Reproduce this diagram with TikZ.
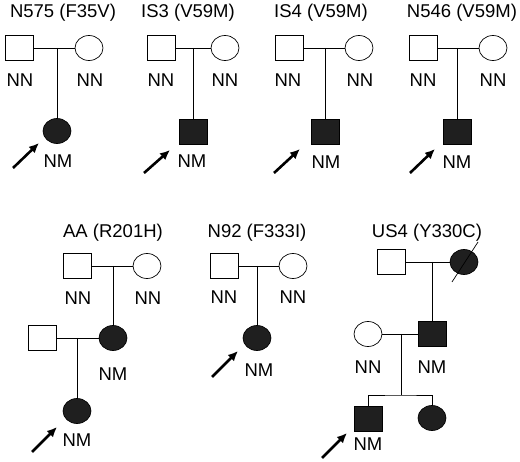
\documentclass[tikz,border=0pt]{standalone}
\usepackage{fontspec}
\setmainfont{Liberation Sans}
\usetikzlibrary{shapes.geometric,arrows.meta,calc}

\begin{document}
\begin{tikzpicture}[x=1pt,y=-1pt]
 \tikzset{person/.style={draw,
      line width=0.7pt,
      minimum width=28pt,
      minimum height=25pt,
      inner sep=0pt
    },
  male/.style={person,rectangle},
  female/.style={person,ellipse},
  affected/.style={fill=black!88},
  geno/.style={font=\fontsize{18.5}{20}\selectfont,inner sep=0pt,anchor=base},
  tie/.style={line width=0.7pt},
  proband/.style={-{Latex[length=10pt,width=9pt]},line width=2.6pt}
}
\useasboundingbox (0,0) rectangle (520,462);

\node[geno] (t1) at (63,18) {N575 (F35V)};
\node[male] (f1) at (19,48) {};
\node[female] (m1) at (89,48) {};
\node[female,affected] (c1) at (57,131) {};
\coordinate (j1) at (57,48);
\draw[tie] (f1) -- (m1);
\draw[tie] (j1) -- (c1);
\node[geno] (gf1) at (20,87) {NN};
\node[geno] (gm1) at (90,87) {NN};
\node[geno] (gc1) at (58,168) {NM};
\coordinate (a1) at (13,168);
\coordinate (b1) at (39,143);
\draw[proband] (a1) -- (b1);

\node[geno] (t2) at (188,18) {IS3 (V59M)};
\node[male] (f2) at (161,48) {};
\node[female] (m2) at (225,48) {};
\node[male,affected] (c2) at (193,132) {};
\coordinate (j2) at (193,48);
\draw[tie] (f2) -- (m2);
\draw[tie] (j2) -- (c2);
\node[geno] (gf2) at (161,87) {NN};
\node[geno] (gm2) at (225,87) {NN};
\node[geno] (gc2) at (192,168) {NM};
\coordinate (a2) at (144,173);
\coordinate (b2) at (170,150);
\draw[proband] (a2) -- (b2);

\node[geno] (t3) at (321,18) {IS4 (V59M)};
\node[male] (f3) at (289,48) {};
\node[female] (m3) at (359,48) {};
\node[male,affected] (c3) at (325,132) {};
\coordinate (j3) at (325,48);
\draw[tie] (f3) -- (m3);
\draw[tie] (j3) -- (c3);
\node[geno] (gf3) at (288,87) {NN};
\node[geno] (gm3) at (360,87) {NN};
\node[geno] (gc3) at (326,169) {NM};
\coordinate (a3) at (274,173);
\coordinate (b3) at (300,149);
\draw[proband] (a3) -- (b3);

\node[geno] (t4) at (462,18) {N546 (V59M)};
\node[male] (f4) at (423,48) {};
\node[female] (m4) at (493,48) {};
\node[male,affected] (c4) at (457,132) {};
\coordinate (j4) at (457,48);
\draw[tie] (f4) -- (m4);
\draw[tie] (j4) -- (c4);
\node[geno] (gf4) at (423,87) {NN};
\node[geno] (gm4) at (493,87) {NN};
\node[geno] (gc4) at (457,169) {NM};
\coordinate (a4) at (410,173);
\coordinate (b4) at (435,149);
\draw[proband] (a4) -- (b4);

\node[geno] (t5) at (113,238) {AA (R201H)};
\node[male] (f5) at (77,266) {};
\node[female] (m5) at (147,266) {};
\node[female,affected] (d5) at (113,338) {};
\node[male] (s5) at (42,338) {};
\node[female,affected] (c5) at (77,411) {};
\coordinate (j5) at (113,266);
\coordinate (k5) at (77,338);
\draw[tie] (f5) -- (m5);
\draw[tie] (j5) -- (d5);
\draw[tie] (s5) -- (d5);
\draw[tie] (k5) -- (c5);
\node[geno] (gf5) at (78,305) {NN};
\node[geno] (gm5) at (148,305) {NN};
\node[geno] (gd5) at (113,381) {NM};
\node[geno] (gc5) at (77,447) {NM};
\coordinate (a5) at (32,452);
\coordinate (b5) at (57,427);
\draw[proband] (a5) -- (b5);

\node[geno] (t6) at (257,238) {N92 (F333I)};
\node[male] (f6) at (224,266) {};
\node[female] (m6) at (293,266) {};
\node[female,affected] (c6) at (257,338) {};
\coordinate (j6) at (257,266);
\draw[tie] (f6) -- (m6);
\draw[tie] (j6) -- (c6);
\node[geno] (gf6) at (224,304) {NN};
\node[geno] (gm6) at (293,304) {NN};
\node[geno] (gc6) at (259,377) {NM};
\coordinate (a6) at (212,377);
\coordinate (b6) at (238,351);
\draw[proband] (a6) -- (b6);

\node[geno] (t7) at (427,238) {US4 (Y330C)};
\node[male] (f7) at (391,262) {};
\node[female,affected] (m7) at (464,262) {};
\draw[tie] ($(m7)+(-12,20)$) -- ($(m7)+(14,-20)$);
\node[male,affected] (s7) at (432,334) {};
\node[female] (w7) at (368,334) {};
\node[male,affected] (c7) at (368,419) {};
\node[female,affected] (e7) at (432,418) {};
\coordinate (j7) at (432,262);
\coordinate (k7) at (401,334);
\coordinate (l7) at (401,395);
\draw[tie] (f7) -- (m7);
\draw[tie] (j7) -- (s7);
\draw[tie] (w7) -- (s7);
\draw[tie] (k7) -- (l7);
\draw[tie] (c7) |- (l7) -| (e7);
\node[geno] (gw7) at (368,374) {NN};
\node[geno] (gs7) at (432,374) {NM};
\node[geno] (gc7) at (368,451) {NM};
\coordinate (a7) at (322,458);
\coordinate (b7) at (347,433);
\draw[proband] (a7) -- (b7);
\end{tikzpicture}
\end{document}
